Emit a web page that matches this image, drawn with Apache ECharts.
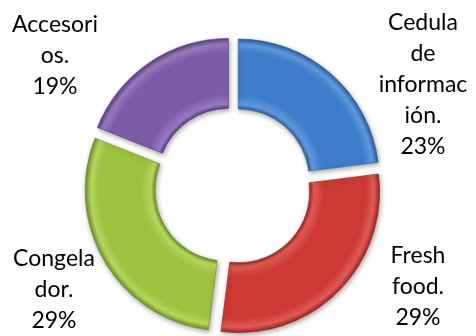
<!DOCTYPE html>
<html>
<head>
<meta charset="utf-8">
<script src="https://cdn.jsdelivr.net/npm/echarts@6/dist/echarts.min.js"></script>
<style>html,body{margin:0;padding:0;background:#fff;}#c{width:476px;height:336px;}</style>
</head>
<body>
<div id="c"></div>
<script>
const categories = ['Cedula de información', 'Fresh food', 'Congelador', 'Accesorios'];
const values = [23, 29, 29, 19];
const labelTexts = ['Cedula\nde\ninformac\nión.', 'Fresh\nfood.', 'Congela\ndor.', 'Accesori\nos.'];

const baseColors = ['#3d7cca', '#cd3a34', '#9cc23f', '#7d5ca7'];
const lightColors = ['#5f98dc', '#e25a54', '#b4d65e', '#977abd'];
const darkColors = ['#2c5f9c', '#9a2622', '#6f8f25', '#5a3f80'];
const labelPos = [[423, 85], [418, 287], [54, 290], [55, 56]];

const CX = 233, CY = 186, R0 = 71, R1 = 141;

function grad(i) {
  return {
    type: 'radial', x: CX, y: CY, r: R1, global: true,
    colorStops: [
      { offset: 0, color: baseColors[i] },
      { offset: R0 / R1, color: darkColors[i] },
      { offset: R0 / R1 + 0.03, color: lightColors[i] },
      { offset: R0 / R1 + 0.1, color: baseColors[i] },
      { offset: 0.9, color: baseColors[i] },
      { offset: 0.96, color: lightColors[i] },
      { offset: 1, color: darkColors[i] }
    ]
  };
}

const data = categories.map((n, i) => ({
  name: n,
  value: values[i],
  selected: true,
  itemStyle: { color: grad(i), borderColor: darkColors[i], borderWidth: 0.6 },
  select: { itemStyle: { color: grad(i), borderColor: darkColors[i], borderWidth: 0.6 } }
}));

const labels = categories.map((n, i) => ({
  type: 'text',
  x: labelPos[i][0],
  y: labelPos[i][1],
  silent: true,
  style: {
    text: labelTexts[i] + '\n' + values[i] + '%',
    align: 'center',
    verticalAlign: 'middle',
    fontFamily: 'Lato',
    fontSize: 23,
    lineHeight: 31,
    fill: '#000'
  }
}));

const chart = echarts.init(document.getElementById('c'), null, { renderer: 'canvas' });
chart.setOption({
  animation: false,
  backgroundColor: '#ffffff',
  graphic: labels,
  series: [{
    type: 'pie',
    center: [CX, CY],
    radius: [R0, R1],
    startAngle: 90,
    clockwise: true,
    selectedMode: 'multiple',
    selectedOffset: 8,
    itemStyle: { shadowBlur: 5, shadowColor: 'rgba(0,0,0,0.35)', shadowOffsetX: 1, shadowOffsetY: 2 },
    label: { show: false },
    labelLine: { show: false },
    emphasis: { disabled: true },
    data: data
  }]
});
</script>
</body>
</html>
